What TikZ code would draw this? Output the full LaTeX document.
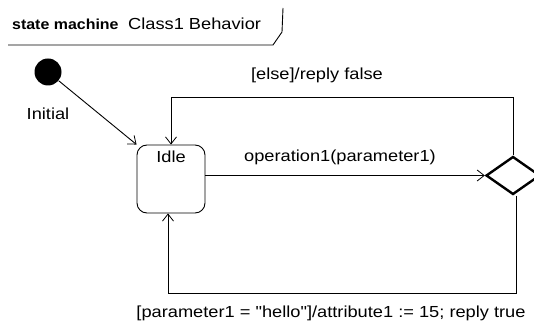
\documentclass[tikz,border=0pt]{standalone}
\usepackage{fontspec}
\setmainfont{Liberation Sans}[FakeStretch=1.14,Ligatures=TeXOff]
\newfontfamily\headbold{Liberation Sans}[FakeStretch=1.1]
\usetikzlibrary{arrows.meta,shapes.geometric}
\begin{document}
\begin{tikzpicture}[x=1pt,y=-1pt,
  lbl/.style={inner sep=0pt,font=\fontsize{16}{19}\selectfont},
  stbox/.style={draw,line width=0.9pt,rounded corners=10pt,minimum width=68pt,minimum height=68pt,inner sep=0pt},
  trans/.style={line width=0.9pt,-{Straight Barb[length=7pt,width=11pt,line width=0.8pt]}},
  plain/.style={line width=0.9pt}]
\useasboundingbox (0,0) rectangle (534,328);
% frame header
\node[lbl,anchor=west] (kw) at (12,24) {\headbold\bfseries\fontsize{14.5}{17}\selectfont state machine};
\node[lbl,anchor=west] (title) at (128,24) {Class1 Behavior};
\coordinate (h0) at (8,45);
\coordinate (h1) at (273,45);
\coordinate (h2) at (282,32);
\coordinate (h3) at (283,8);
\draw[plain] (h0) -- (h1) -- (h2) -- (h3);
% initial pseudostate
\node[circle,fill=black,minimum size=27pt,inner sep=0pt] (init) at (48,72) {};
\node[lbl] (initlbl) at (48,114) {Initial};
% idle state
\node[stbox] (idle) at (171,179) {};
\node[lbl] (idlelbl) at (171,157) {Idle};
% choice point
\node[diamond,draw,line width=2.4pt,minimum width=54pt,minimum height=38pt,inner sep=0pt] (choice) at (513,175.5) {};
% transitions
\draw[trans] (init) -- (idle.north west);
\draw[trans] (idle.east |- choice.west) -- (choice.west);
\coordinate (tr) at (513,97);
\coordinate (tl) at (171,97);
\draw[trans] (choice.north) -- (tr) -- (tl) -- (idle.north);
\coordinate (br) at (516,293);
\coordinate (bl) at (168,293);
\draw[trans] (choice.south -| br) -- (br) -- (bl) -- (bl |- idle.south);
% transition labels
\node[lbl] (oplbl) at (340,157) {operation1(parameter1)};
\node[lbl] (elselbl) at (317,75) {[else]/reply false};
\node[lbl] (truelbl) at (331,313) {[parameter1 = "hello"]/attribute1 := 15; reply true};
\end{tikzpicture}
\end{document}
